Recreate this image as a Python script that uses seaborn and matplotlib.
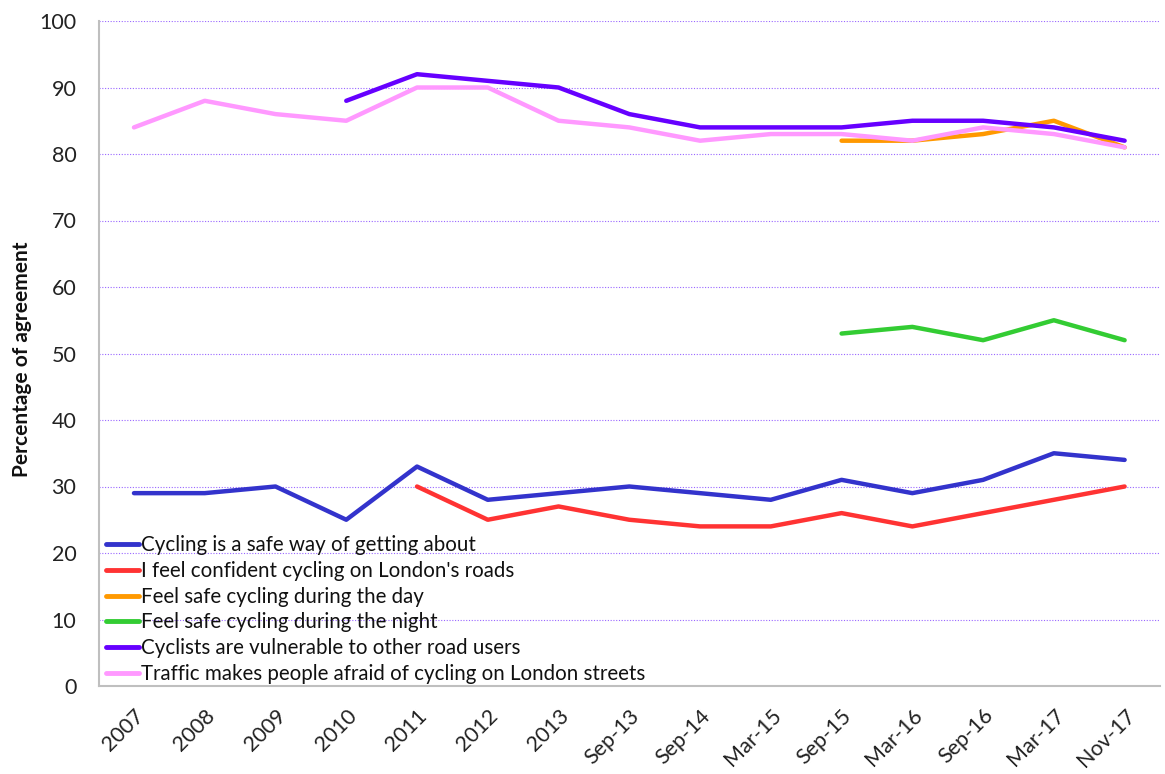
import matplotlib
matplotlib.use("Agg")
import matplotlib.pyplot as plt
import seaborn as sns
import pandas as pd
import numpy as np

categories = ["2007", "2008", "2009", "2010", "2011", "2012", "2013", "Sep-13",
              "Sep-14", "Mar-15", "Sep-15", "Mar-16", "Sep-16", "Mar-17", "Nov-17"]

series_names = [
    "Cycling is a safe way of getting about",
    "I feel confident cycling on London's roads",
    "Feel safe cycling during the day",
    "Feel safe cycling during the night",
    "Cyclists are vulnerable to other road users",
    "Traffic makes people afraid of cycling on London streets",
]

nan = np.nan
safe_way = [29, 29, 30, 25, 33, 28, 29, 30, 29, 28, 31, 29, 31, 35, 34]
confident = [nan, nan, nan, nan, 30, 25, 27, 25, 24, 24, 26, 24, 26, 28, 30]
safe_day = [nan] * 10 + [82, 82, 83, 85, 81]
safe_night = [nan] * 10 + [53, 54, 52, 55, 52]
vulnerable = [nan, nan, nan, 88, 92, 91, 90, 86, 84, 84, 84, 85, 85, 84, 82]
traffic_afraid = [84, 88, 86, 85, 90, 90, 85, 84, 82, 83, 83, 82, 84, 83, 81]

colors = ["#3333CC", "#FF3333", "#FF9900", "#33CC33", "#6600FF", "#FF99FF"]

all_values = [safe_way, confident, safe_day, safe_night, vulnerable, traffic_afraid]
rows = []
for name, vals in zip(series_names, all_values):
    for i, v in enumerate(vals):
        if not np.isnan(v):
            rows.append({"pos": i, "value": v, "series": name})
df = pd.DataFrame(rows)

sns.set_theme(style="white")
plt.rcParams["font.family"] = ["Lato", "DejaVu Sans"]

fig = plt.figure(figsize=(11.65, 7.74), dpi=100)
ax = fig.add_axes([98.6 / 1165, 1 - 686 / 774, (1160 - 98.6) / 1165, (686 - 21) / 774])

sns.lineplot(data=df, x="pos", y="value", hue="series", hue_order=series_names,
             palette=colors, linewidth=3.2, sort=False, ax=ax, legend=True)

ax.set_xlim(-0.5, 14.32)
ax.set_ylim(0, 100)
ax.set_yticks(range(0, 101, 10))
ax.set_yticklabels([str(v) for v in range(0, 101, 10)], fontsize=15.5, color="#222222")
ax.set_xticks(range(len(categories)))
ax.set_xticklabels(categories, rotation=45, ha="right", rotation_mode="anchor",
                   fontsize=15.5, color="#222222")
ax.set_xticks(np.arange(-0.5, 14.6, 1.0), minor=True)
ax.tick_params(axis="x", which="major", length=0, pad=14)
ax.tick_params(axis="x", which="minor", length=7, color="#BFBFBF", width=1.2, direction="out")
ax.tick_params(axis="y", which="major", length=7, color="#BFBFBF", width=1.2, direction="out", pad=9)

ax.yaxis.grid(True, color="#9966FF", linestyle=(0, (1, 1.5)), linewidth=0.8)
ax.xaxis.grid(False)
ax.set_axisbelow(True)

for s in ["top", "right"]:
    ax.spines[s].set_visible(False)
for s in ["left", "bottom"]:
    ax.spines[s].set_color("#BFBFBF")
    ax.spines[s].set_linewidth(1.5)

ax.set_xlabel("")
ax.set_ylabel("")
fig.text(22 / 1165, 1 - 359 / 774, "Percentage of agreement", rotation=90,
         ha="center", va="center", fontsize=15, fontweight="bold", color="#111111")

handles, labels = ax.get_legend_handles_labels()
leg = ax.legend(handles, labels, loc="lower left", frameon=False,
                bbox_to_anchor=(106 / 1165, 1 - 684 / 774), bbox_transform=fig.transFigure,
                fontsize=14.8, handlelength=1.6, handletextpad=0.1, labelspacing=0.28,
                borderpad=0, borderaxespad=0)
for t in leg.get_texts():
    t.set_color("#111111")
for line in leg.get_lines():
    line.set_linewidth(3.5)

fig.savefig("out.png", dpi=100)
